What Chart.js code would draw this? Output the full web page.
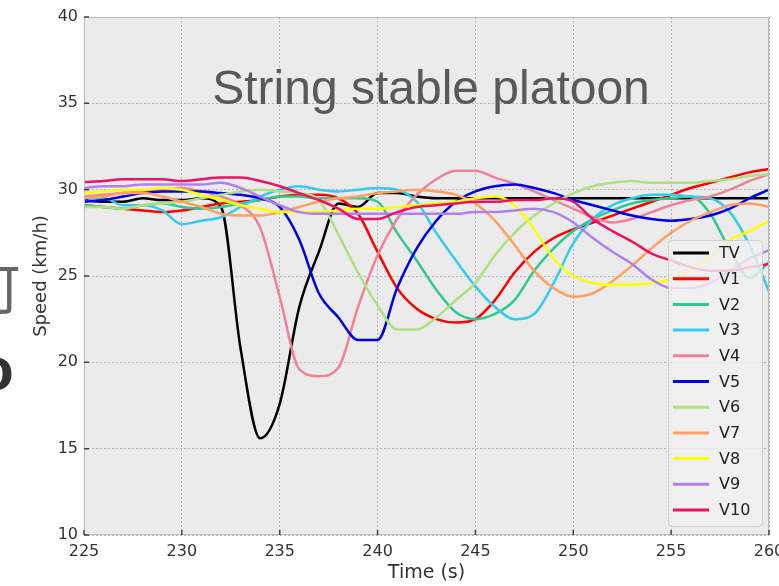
<!DOCTYPE html>
<html>
<head>
<meta charset="utf-8">
<script src="https://cdn.jsdelivr.net/npm/chart.js@4.4.0/dist/chart.umd.min.js"></script>
<style>
html, body { margin: 0; padding: 0; background: #fff; }
</style>
</head>
<body>
<canvas id="speedChart" width="779" height="586"></canvas>
<script>
// time axis (s)
var times = [225, 226, 227, 228, 229, 230, 231, 232, 233, 234, 235, 236, 237, 238, 239, 240, 241, 242,
             243, 244, 245, 246, 247, 248, 249, 250, 251, 252, 253, 254, 255, 256, 257, 258, 259, 260];

// speeds (km/h)
var tv  = [29.4, 29.3, 29.3, 29.5, 29.4, 29.4, 29.5, 29.0, 20.8, 15.6, 17.6, 23.2, 26.4, 29.2, 29.0, 29.8, 29.8, 29.6,
           29.5, 29.5, 29.5, 29.5, 29.5, 29.5, 29.5, 29.5, 29.5, 29.5, 29.5, 29.5, 29.5, 29.5, 29.5, 29.5, 29.5, 29.5];
var v1  = [29.1, 29.0, 28.9, 28.8, 28.7, 28.8, 29.0, 29.2, 29.3, 29.4, 29.6, 29.7, 29.7, 29.5, 28.6, 26.4, 24.3, 23.1,
           22.5, 22.3, 22.5, 23.6, 25.2, 26.4, 27.2, 27.7, 28.1, 28.5, 28.9, 29.3, 29.7, 30.1, 30.4, 30.7, 31.0, 31.2];
var v2  = [29.1, 29.0, 28.9, 29.1, 29.2, 29.0, 28.9, 29.0, 29.2, 29.4, 29.6, 29.6, 29.5, 29.5, 29.5, 29.3, 27.5, 25.9,
           24.2, 22.9, 22.5, 22.8, 23.6, 25.3, 26.6, 27.6, 28.3, 28.8, 29.2, 29.4, 29.5, 29.6, 28.6, 26.5, 24.9, 25.8];
var v3  = [29.3, 29.5, 29.1, 29.1, 28.8, 28.0, 28.2, 28.4, 29.0, 29.6, 30.0, 30.2, 30.0, 29.9, 30.0, 30.1, 30.0, 29.3,
           27.5, 25.9, 24.4, 23.2, 22.5, 22.8, 24.6, 26.9, 28.3, 29.1, 29.5, 29.7, 29.7, 29.6, 29.5, 28.7, 26.8, 24.1];
var v4  = [29.6, 29.7, 29.8, 29.9, 30.0, 30.1, 29.9, 29.6, 29.1, 27.8, 23.8, 19.6, 19.2, 19.7, 23.2, 26.2, 28.3, 29.7,
           30.6, 31.1, 31.1, 30.7, 30.35, 29.9, 29.4, 28.9, 28.4, 28.1, 28.3, 28.7, 29.1, 29.4, 29.6, 30.0, 30.5, 30.9];
var v5  = [29.3, 29.4, 29.6, 29.8, 29.9, 29.9, 29.9, 29.8, 29.7, 29.5, 29.0, 27.1, 24.0, 22.6, 21.3, 21.3, 24.3, 26.6,
           28.2, 29.3, 29.9, 30.2, 30.3, 30.1, 29.8, 29.4, 29.1, 28.8, 28.5, 28.3, 28.2, 28.3, 28.5, 28.9, 29.5, 30.0];
var v6  = [29.0, 29.0, 28.9, 29.1, 29.2, 29.3, 29.5, 29.7, 29.9, 30.0, 29.9, 29.8, 29.4, 27.4, 25.2, 23.3, 21.9, 21.9,
           22.6, 23.6, 24.6, 26.2, 27.5, 28.5, 29.2, 29.8, 30.2, 30.4, 30.5, 30.4, 30.4, 30.4, 30.5, 30.6, 30.8, 30.9];
var v7  = [29.5, 29.6, 29.8, 29.8, 29.6, 29.3, 29.0, 28.6, 28.5, 28.5, 28.7, 29.0, 29.3, 29.5, 29.6, 29.8, 29.9, 30.0,
           29.9, 29.7, 29.2, 28.2, 26.8, 25.3, 24.3, 23.8, 24.0, 24.7, 25.6, 26.6, 27.5, 28.2, 28.7, 29.1, 29.2, 29.0];
var v8  = [29.8, 29.9, 30.0, 30.0, 30.1, 30.0, 29.7, 29.4, 29.1, 28.9, 28.7, 28.7, 28.7, 28.8, 28.9, 28.9, 29.0, 29.1,
           29.2, 29.3, 29.5, 29.6, 29.1, 27.7, 26.0, 25.0, 24.6, 24.5, 24.5, 24.6, 24.8, 25.3, 26.1, 27.1, 27.6, 28.2];
var v9  = [30.1, 30.2, 30.2, 30.3, 30.3, 30.3, 30.3, 30.4, 30.1, 29.6, 29.1, 28.7, 28.6, 28.6, 28.6, 28.6, 28.6, 28.6,
           28.6, 28.6, 28.7, 28.7, 28.8, 28.9, 28.7, 28.1, 27.2, 26.4, 25.7, 24.8, 24.3, 24.3, 24.6, 25.3, 26.0, 26.5];
var v10 = [30.45, 30.5, 30.6, 30.6, 30.6, 30.5, 30.6, 30.7, 30.7, 30.5, 30.2, 29.8, 29.4, 28.9, 28.3, 28.3, 28.7, 29.0,
           29.1, 29.2, 29.3, 29.3, 29.4, 29.4, 29.5, 29.3, 28.3, 27.6, 27.0, 26.3, 25.9, 25.5, 25.3, 25.3, 25.5, 25.7];

var seriesNames  = ['TV', 'V1', 'V2', 'V3', 'V4', 'V5', 'V6', 'V7', 'V8', 'V9', 'V10'];
var seriesValues = [tv, v1, v2, v3, v4, v5, v6, v7, v8, v9, v10];
var seriesColors = ['#000000', '#ff0000', '#30c890', '#33ccee', '#ee8299', '#0000ee',
                    '#b0e080', '#ffa060', '#ffff00', '#b07ff0', '#ee1166'];

var yTicks = [10, 15, 20, 25, 30, 35, 40];
var xTicks = [225, 230, 235, 240, 245, 250, 255, 260];

var tickFont = { family: 'DejaVu Sans', size: 16 };
var textColor = '#333333';

var datasets = [];
for (var i = 0; i < seriesNames.length; i++) {
    var pts = [];
    for (var j = 0; j < times.length; j++) {
        pts.push({ x: times[j], y: seriesValues[i][j] });
    }
    datasets.push({
        label: seriesNames[i],
        data: pts,
        borderColor: seriesColors[i],
        backgroundColor: seriesColors[i],
        borderWidth: 2.5,
        pointRadius: 0,
        fill: false,
        cubicInterpolationMode: 'monotone',
        order: seriesNames.length - i   // later series on top, like the original
    });
}

// grey plot background and the frame, inward tick marks
var plotFrame = {
    id: 'plotFrame',
    beforeDraw: function(chart) {
        var ctx = chart.ctx, a = chart.chartArea;
        ctx.save();
        ctx.fillStyle = '#ffffff';
        ctx.fillRect(0, 0, chart.width, chart.height);
        ctx.fillStyle = '#ebebeb';
        ctx.fillRect(a.left, a.top, a.right - a.left, a.bottom - a.top);
        ctx.restore();
    },
    afterDatasetsDraw: function(chart) {
        var ctx = chart.ctx, a = chart.chartArea;
        var xs = chart.scales.x, ys = chart.scales.y;
        ctx.save();
        ctx.strokeStyle = '#bcbcbc';
        ctx.lineWidth = 1;
        ctx.strokeRect(a.left + 0.5, a.top + 0.5, a.right - a.left - 1, a.bottom - a.top - 1);
        ctx.strokeStyle = '#444444';
        ctx.lineWidth = 1.5;
        ctx.beginPath();
        yTicks.forEach(function(v) {
            var py = ys.getPixelForValue(v);
            ctx.moveTo(a.left, py);
            ctx.lineTo(a.left + 5, py);
        });
        xTicks.forEach(function(v) {
            var px = xs.getPixelForValue(v);
            ctx.moveTo(px, a.bottom);
            ctx.lineTo(px, a.bottom - 5);
        });
        ctx.stroke();
        ctx.restore();
    }
};

// title inside the plot, legend box, and the cut-off slide text on the left
var overlay = {
    id: 'overlay',
    afterDraw: function(chart) {
        var ctx = chart.ctx;
        ctx.save();

        ctx.fillStyle = '#595959';
        ctx.font = '48px "Liberation Sans", Arial, sans-serif';
        ctx.textAlign = 'center';
        ctx.textBaseline = 'alphabetic';
        ctx.fillText('String stable platoon', 431, 104);

        // slide text cropped by the left edge
        ctx.textAlign = 'left';
        ctx.fillStyle = '#666666';
        ctx.font = '55px "Noto Sans CJK SC"';
        ctx.fillText('可', -34, 309);
        ctx.fillStyle = '#333333';
        ctx.font = 'bold 62px "Liberation Sans", Arial, sans-serif';
        ctx.fillText('o', -24, 390);

        // legend
        var bx = 668, by = 240, bw = 94, bh = 286;
        ctx.fillStyle = 'rgba(240,240,240,0.82)';
        ctx.strokeStyle = '#cfcfcf';
        ctx.lineWidth = 1;
        ctx.beginPath();
        ctx.roundRect(bx + 0.5, by + 0.5, bw, bh, 4);
        ctx.fill();
        ctx.stroke();

        ctx.font = '16px "DejaVu Sans"';
        ctx.textBaseline = 'middle';
        chart.data.datasets.forEach(function(ds, k) {
            var ry = 253 + k * 25.7;
            ctx.strokeStyle = ds.borderColor;
            ctx.lineWidth = 3;
            ctx.beginPath();
            ctx.moveTo(673, ry);
            ctx.lineTo(709, ry);
            ctx.stroke();
            ctx.fillStyle = '#222222';
            ctx.fillText(ds.label, 719, ry + 1);
        });

        ctx.restore();
    }
};

new Chart(document.getElementById('speedChart'), {
    type: 'line',
    data: { datasets: datasets },
    options: {
        responsive: false,
        animation: false,
        events: [],
        layout: { padding: { top: 17, right: 10, left: 0, bottom: 0 } },
        plugins: {
            legend: { display: false },
            tooltip: { enabled: false }
        },
        scales: {
            x: {
                type: 'linear',
                min: 225,
                max: 260,
                afterBuildTicks: function(s) {
                    s.ticks = xTicks.map(function(v) { return { value: v }; });
                },
                ticks: { color: textColor, font: tickFont, padding: 7, autoSkip: false, maxRotation: 0 },
                grid: { color: '#b3b3b3', lineWidth: 1, drawTicks: false },
                border: { display: false, dash: [2, 2] },
                title: {
                    display: true,
                    text: 'Time (s)',
                    color: textColor,
                    font: { family: 'DejaVu Sans', size: 19 },
                    padding: { top: 0, bottom: 2 }
                },
                afterFit: function(s) {
                    s.height = 51;
                    s.paddingLeft = 0;
                    s.paddingRight = 0;
                }
            },
            y: {
                type: 'linear',
                min: 10,
                max: 40,
                afterBuildTicks: function(s) {
                    s.ticks = yTicks.map(function(v) { return { value: v }; });
                },
                ticks: { color: textColor, font: tickFont, padding: 6 },
                grid: { color: '#b3b3b3', lineWidth: 1, drawTicks: false },
                border: { display: false, dash: [2, 2] },
                title: {
                    display: true,
                    text: 'Speed (km/h)',
                    color: textColor,
                    font: { family: 'DejaVu Sans', size: 18 },
                    padding: { top: 31, bottom: 0 }
                },
                afterFit: function(s) {
                    s.width = 84;
                    s.paddingTop = 0;
                    s.paddingBottom = 0;
                }
            }
        }
    },
    plugins: [plotFrame, overlay]
});
</script>
</body>
</html>
